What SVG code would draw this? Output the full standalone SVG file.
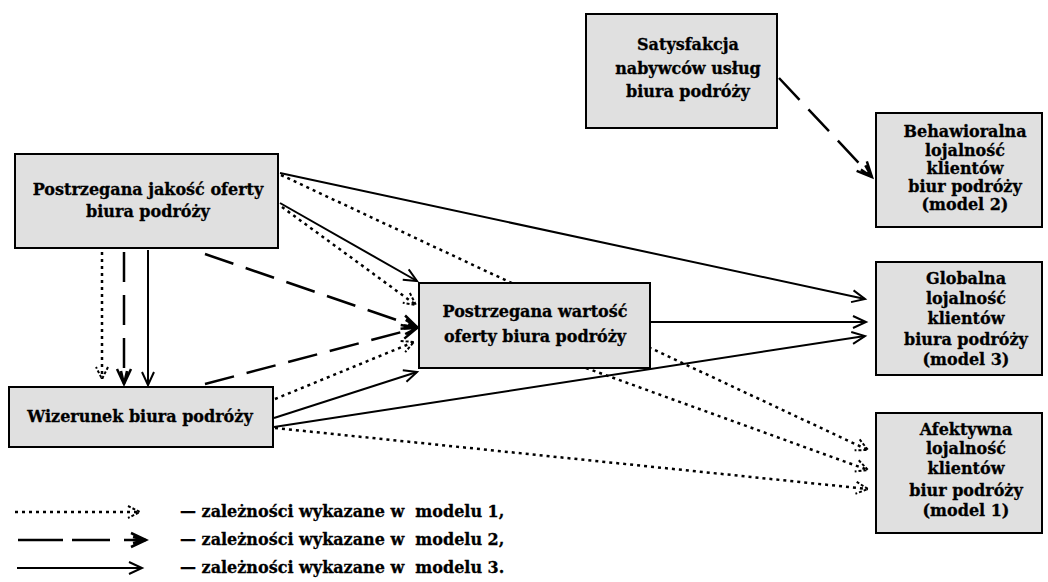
<svg xmlns="http://www.w3.org/2000/svg" width="1048" height="582" viewBox="0 0 1048 582">
  <style>
    .box { fill: #e0e0e0; stroke: #000; stroke-width: 2; }
    .lbl { font-family: "DejaVu Serif", "Liberation Serif", serif; font-weight: bold; font-size: 16px; fill: #000; stroke: #000; stroke-width: 0.3; text-anchor: middle; }
    .leg { font-family: "DejaVu Serif", "Liberation Serif", serif; font-weight: bold; font-size: 16px; fill: #000; stroke: #000; stroke-width: 0.3; white-space: pre; }
    .solid { fill: none; stroke: #000; stroke-width: 2; marker-end: url(#ah-solid); }
    .dot { fill: none; stroke: #000; stroke-width: 2.5; stroke-dasharray: 3 4; marker-end: url(#ah-dot); }
    .dash { fill: none; stroke: #000; stroke-width: 2.5; stroke-dasharray: 30 13; marker-end: url(#ah-dash); }
  </style>
  <defs>
    <marker id="ah-solid" markerUnits="userSpaceOnUse" orient="auto" overflow="visible" markerWidth="1" markerHeight="1" refX="0" refY="0">
      <path d="M-13,-6 L0,0 L-13,6" fill="none" stroke="#000" stroke-width="2"/>
    </marker>
    <marker id="ah-dot" markerUnits="userSpaceOnUse" orient="auto" overflow="visible" markerWidth="1" markerHeight="1" refX="0" refY="0">
      <path d="M-12,-6 L0,0 L-12,6" fill="none" stroke="#000" stroke-width="2" stroke-dasharray="3 2"/>
    </marker>
    <marker id="ah-dash" markerUnits="userSpaceOnUse" orient="auto" overflow="visible" markerWidth="1" markerHeight="1" refX="0" refY="0">
      <path d="M-15,-7 L0,0 L-15,7 M-13,-3 L0,0 L-13,3" fill="none" stroke="#000" stroke-width="2.5"/>
    </marker>
  </defs>

  <rect width="1048" height="582" fill="#fff"/>

  <!-- connectors -->
  <g id="connectors">
    <!-- model 3 (solid) -->
    <line class="solid" x1="280" y1="173" x2="865" y2="299"/>
    <line class="solid" x1="280" y1="203" x2="417" y2="281"/>
    <line class="solid" x1="274" y1="418" x2="417" y2="372"/>
    <line class="solid" x1="274" y1="427" x2="865" y2="336"/>
    <line class="solid" x1="650" y1="322" x2="866" y2="322"/>
    <line class="solid" x1="148" y1="250" x2="148" y2="385"/>
    <!-- model 1 (dotted) -->
    <line class="dot" x1="281" y1="175" x2="868" y2="450"/>
    <line class="dot" x1="282" y1="207" x2="416" y2="305"/>
    <line class="dot" x1="275" y1="399" x2="414" y2="342"/>
    <line class="dot" x1="586" y1="368" x2="868" y2="470"/>
    <line class="dot" x1="275" y1="428" x2="868" y2="489"/>
    <line class="dot" x1="102" y1="252" x2="102" y2="379"/>
    <!-- model 2 (dashed) -->
    <line class="dash" x1="205" y1="254" x2="417" y2="327"/>
    <line class="dash" x1="205" y1="384" x2="417" y2="328"/>
    <line class="dash" x1="124" y1="252" x2="124" y2="384"/>
    <line class="dash" x1="779" y1="78" x2="872" y2="177"/>
  </g>

  <!-- nodes -->
  <g id="satysfakcja">
    <rect class="box" x="586" y="14" width="191" height="114"/>
    <text class="lbl" x="688" y="50">Satysfakcja</text>
    <text class="lbl" x="688" y="74">nabywców usług</text>
    <text class="lbl" x="688" y="97">biura podróży</text>
  </g>
  <g id="jakosc">
    <rect class="box" x="15" y="154" width="263" height="94"/>
    <text class="lbl" x="148" y="195">Postrzegana jakość oferty</text>
    <text class="lbl" x="148" y="217">biura podróży</text>
  </g>
  <g id="wizerunek">
    <rect class="box" x="9" y="387" width="264" height="60"/>
    <text class="lbl" x="140" y="422">Wizerunek biura podróży</text>
  </g>
  <g id="wartosc">
    <rect class="box" x="419" y="283" width="231" height="85"/>
    <text class="lbl" x="535" y="317">Postrzegana wartość</text>
    <text class="lbl" x="535" y="342">oferty biura podróży</text>
  </g>
  <g id="behawioralna">
    <rect class="box" x="876" y="113" width="166" height="114"/>
    <text class="lbl" x="965" y="137">Behawioralna</text>
    <text class="lbl" x="965" y="156">lojalność</text>
    <text class="lbl" x="965" y="174">klientów</text>
    <text class="lbl" x="965" y="192">biur podróży</text>
    <text class="lbl" x="965" y="210">(model 2)</text>
  </g>
  <g id="globalna">
    <rect class="box" x="876" y="262" width="166" height="113"/>
    <text class="lbl" x="966" y="284">Globalna</text>
    <text class="lbl" x="966" y="304">lojalność</text>
    <text class="lbl" x="966" y="324">klientów</text>
    <text class="lbl" x="966" y="345">biura podróży</text>
    <text class="lbl" x="966" y="365">(model 3)</text>
  </g>
  <g id="afektywna">
    <rect class="box" x="876" y="413" width="166" height="120"/>
    <text class="lbl" x="966" y="435">Afektywna</text>
    <text class="lbl" x="966" y="454">lojalność</text>
    <text class="lbl" x="966" y="474">klientów</text>
    <text class="lbl" x="966" y="496">biur podróży</text>
    <text class="lbl" x="966" y="516">(model 1)</text>
  </g>

  <!-- legend -->
  <g id="legend">
    <line class="dot" x1="15" y1="512" x2="140" y2="512"/>
    <line class="dash" x1="18" y1="540" x2="146" y2="540" style="stroke-dasharray: 45 9 38 14 100"/>
    <line class="solid" x1="17" y1="568" x2="142" y2="568"/>
    <text class="leg" x="180" y="517">— zależności wykazane w  modelu 1,</text>
    <text class="leg" x="180" y="545">— zależności wykazane w  modelu 2,</text>
    <text class="leg" x="180" y="573">— zależności wykazane w  modelu 3.</text>
  </g>
</svg>
